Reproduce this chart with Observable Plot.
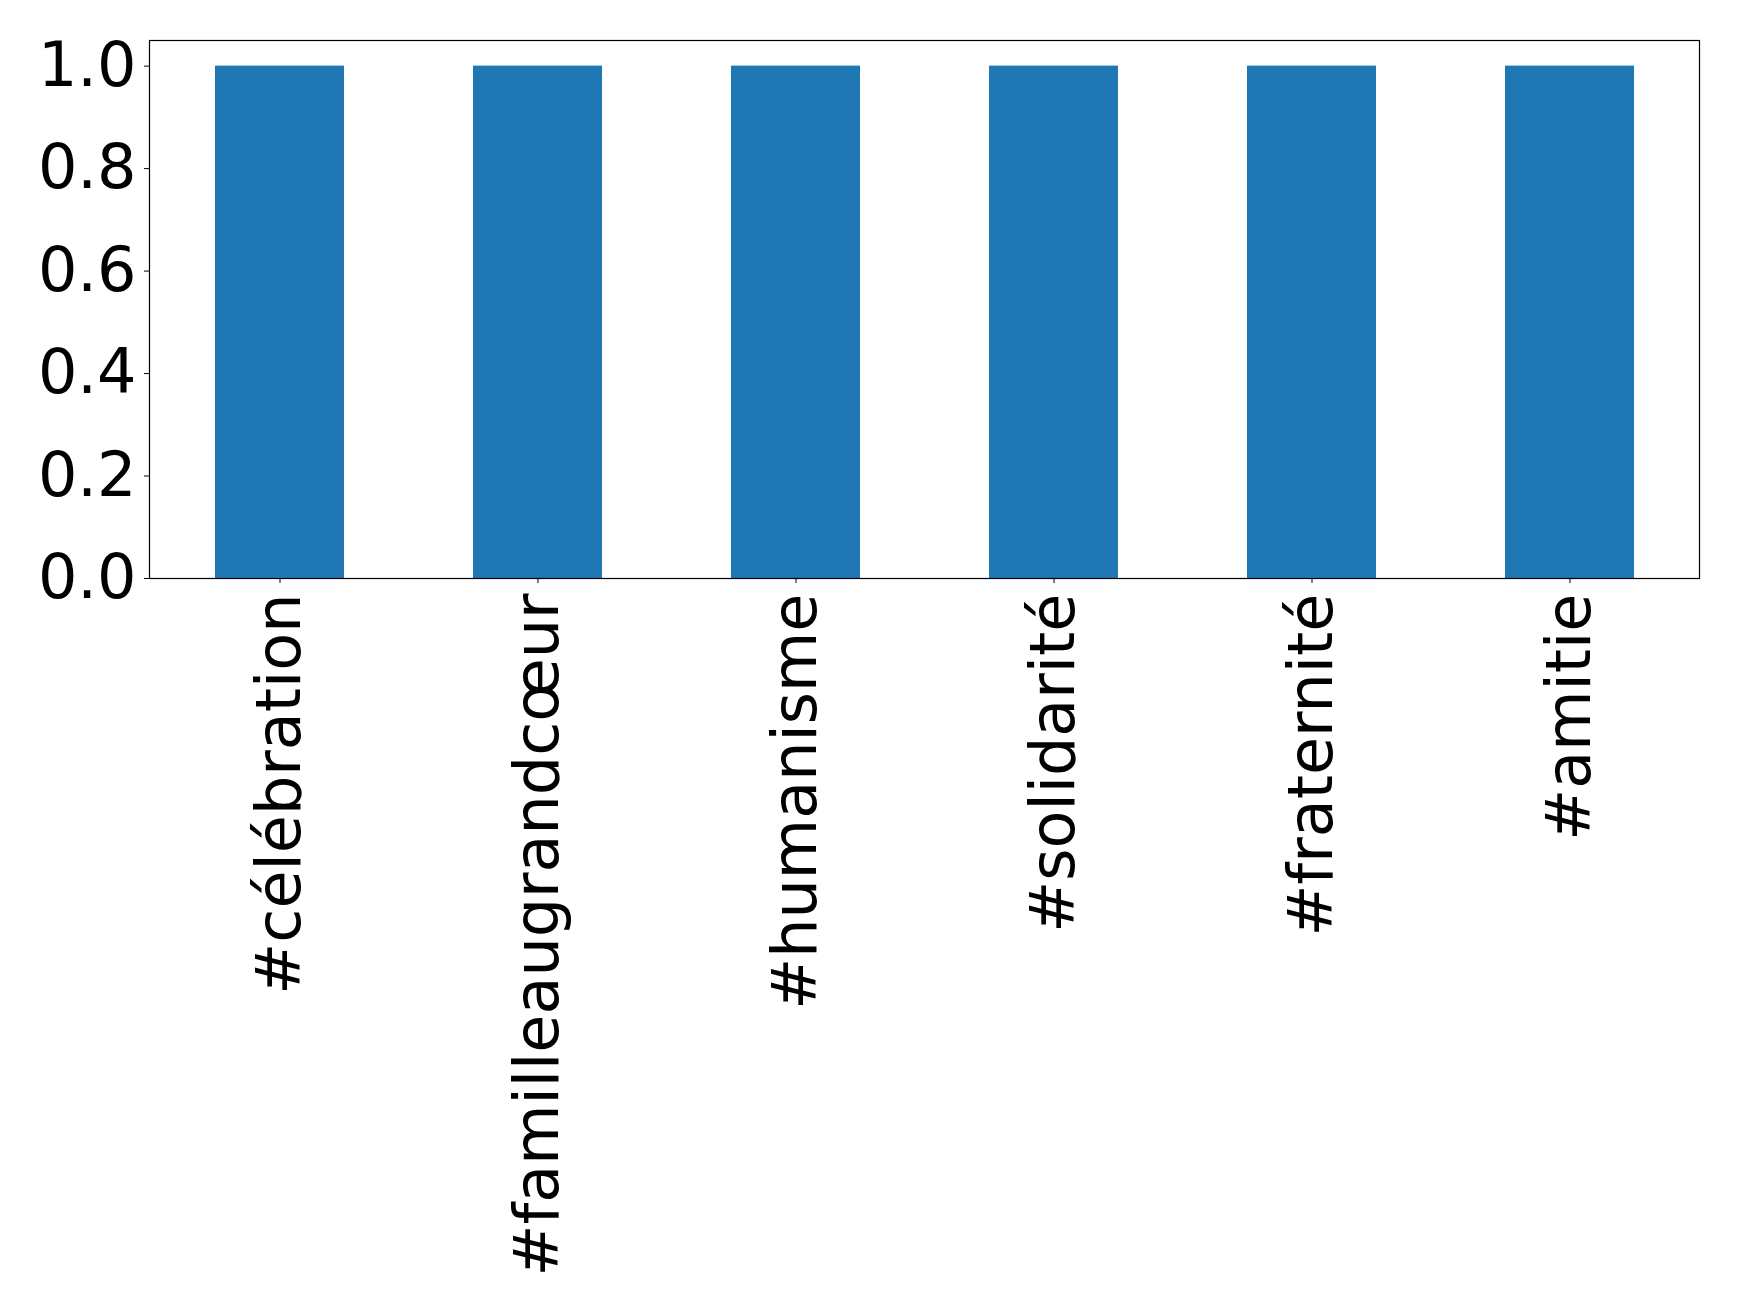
<!DOCTYPE html>
<html>
<head>
<meta charset="utf-8">
<script src="https://cdn.jsdelivr.net/npm/d3@7"></script>
<script src="https://cdn.jsdelivr.net/npm/@observablehq/plot@0.6"></script>
<style>
  html, body { margin: 0; padding: 0; background: #fff; }
</style>
</head>
<body>
<div id="chart"></div>
<script>
const categories = ["#célébration", "#familleaugrandcœur", "#humanisme", "#solidarité", "#fraternité", "#amitie"];
const values = [1, 1, 1, 1, 1, 1];
const yTicks = [0, 0.2, 0.4, 0.6, 0.8, 1.0];

const data = categories.map((c, i) => ({tag: c, count: values[i]}));

const chart = Plot.plot({
  width: 1739,
  height: 1316,
  marginLeft: 149,
  marginRight: 40,
  marginTop: 40,
  marginBottom: 738,
  style: {fontFamily: "DejaVu Sans", fontSize: "62px", color: "#000", background: "#fff"},
  x: {domain: categories, paddingInner: 0.5, paddingOuter: 0.25, label: null},
  y: {domain: [0, 1.05], label: null},
  marks: [
    Plot.barY(data, {x: "tag", y: "count", fill: "#1f77b4"}),
    Plot.frame({stroke: "#000", strokeWidth: 1.2}),
    Plot.axisY({ticks: yTicks, tickFormat: d3.format(".1f"), tickSize: 5, tickPadding: 8, fontSize: 62, label: null, stroke: "#000"}),
    Plot.axisX({tickRotate: -90, tickSize: 5, tickPadding: 10, fontSize: 62, label: null, stroke: "#000"})
  ]
});
document.getElementById("chart").appendChild(chart);
</script>
</body>
</html>
